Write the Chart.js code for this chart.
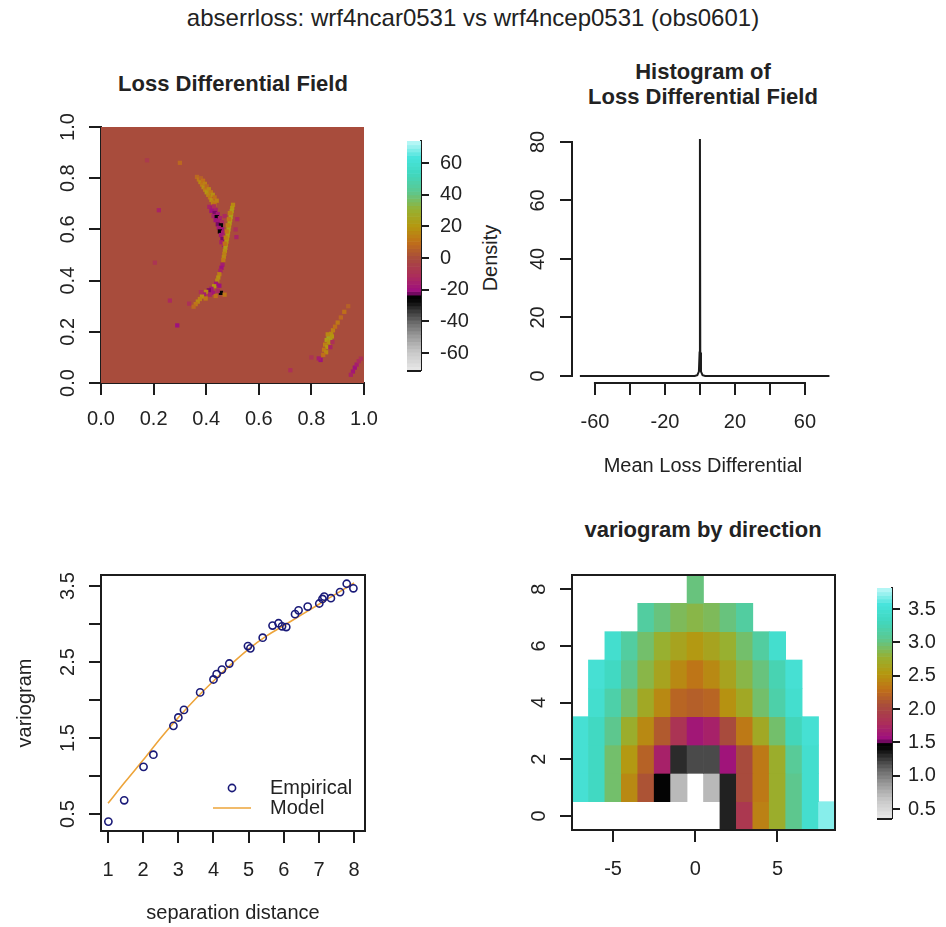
<!DOCTYPE html>
<html>
<head>
<meta charset="utf-8">
<script src="https://cdn.jsdelivr.net/npm/chart.js@4.4.1/dist/chart.umd.min.js"></script>
<style>
  body { margin: 0; background: #fff; }
  #page { position: relative; width: 946px; height: 927px; overflow: hidden;
          font-family: 'Liberation Sans', Arial, sans-serif; color: #222; }
  canvas { position: absolute; left: 0; top: 0; }
  .lbl { position: absolute; white-space: nowrap; line-height: 1; transform: translate(-50%, -50%); }
  .main { font-size: 24px; }
  .ptitle { font-size: 22px; font-weight: bold; }
  .side { font-size: 20px; transform: translate(-50%, -50%) rotate(-90deg); }
</style>
</head>
<body>
<div id="page">
  <div class="lbl main" style="left:473px;top:18px">abserrloss: wrf4ncar0531 vs wrf4ncep0531 (obs0601)</div>
  <div class="lbl ptitle" style="left:233px;top:84px">Loss Differential Field</div>
  <div class="lbl ptitle" style="left:703px;top:72px">Histogram of</div>
  <div class="lbl ptitle" style="left:703px;top:97px">Loss Differential Field</div>
  <div class="lbl ptitle" style="left:703px;top:530px">variogram by direction</div>
  <div class="lbl side" style="left:490px;top:258px">Density</div>

  <canvas id="fieldChart" width="946" height="927"></canvas>
  <canvas id="fieldBar" width="946" height="927"></canvas>
  <canvas id="densChart" width="946" height="927"></canvas>
  <canvas id="varioChart" width="946" height="927"></canvas>
  <canvas id="dirChart" width="946" height="927"></canvas>
  <canvas id="dirBar" width="946" height="927"></canvas>
</div>

<script>
/* =========================
   DATA
========================= */

// loss differential field: value everywhere except the spots below
const fieldBase = 0;
const fieldRange = [-70.7, 73.9];
// [x, y, value]
const fieldSpots = [
  // upper orange streak
  [0.365,0.805,8],[0.372,0.795,12],[0.378,0.785,16],[0.384,0.775,12],[0.390,0.765,18],[0.396,0.755,14],
  [0.402,0.745,20],[0.408,0.735,16],[0.414,0.725,12],[0.420,0.715,18],[0.426,0.705,14],[0.432,0.697,10],
  [0.380,0.800,6],[0.388,0.790,10],[0.395,0.778,14],[0.402,0.768,8],[0.410,0.757,16],[0.418,0.745,12],
  [0.425,0.735,18],[0.432,0.725,10],[0.440,0.712,14],
  // purple blotch
  [0.412,0.688,-14],[0.424,0.684,-18],[0.436,0.676,-16],[0.420,0.672,-20],[0.432,0.664,-22],[0.444,0.660,-18],
  [0.428,0.652,-16],[0.440,0.648,-25],[0.452,0.644,-14],[0.436,0.636,-20],[0.448,0.632,-18],[0.460,0.628,-12],
  [0.444,0.620,-22],[0.456,0.616,-26],[0.448,0.606,-18],[0.460,0.600,-20],[0.452,0.592,-24],[0.464,0.588,-16],
  [0.456,0.578,-18],[0.468,0.572,-14],[0.462,0.562,-22],[0.458,0.550,-16],[0.468,0.540,-20],[0.472,0.528,-14],
  [0.430,0.690,-10],[0.470,0.652,-12],
  // yellow streak
  [0.502,0.696,16],[0.499,0.684,20],[0.497,0.672,22],[0.495,0.660,18],[0.493,0.648,24],[0.491,0.636,20],
  [0.489,0.624,22],[0.487,0.612,18],[0.485,0.600,24],[0.483,0.588,20],[0.481,0.576,22],[0.479,0.564,18],
  [0.477,0.552,20],[0.475,0.540,16],[0.473,0.528,22],[0.471,0.516,18],[0.469,0.504,14],[0.467,0.492,16],
  [0.465,0.480,12],[0.490,0.664,14],[0.486,0.640,12],[0.482,0.616,14],[0.478,0.592,12],[0.474,0.568,14],
  [0.470,0.544,10],[0.515,0.570,-14],[0.512,0.600,-10],[0.518,0.640,-12],
  // lower cluster
  [0.462,0.462,-16],[0.458,0.450,-20],[0.454,0.438,-14],[0.450,0.425,14],[0.446,0.412,18],[0.442,0.400,16],
  [0.438,0.388,-18],[0.450,0.380,-20],[0.430,0.378,20],[0.420,0.368,-18],[0.410,0.362,-22],[0.400,0.356,16],
  [0.392,0.346,-16],[0.384,0.338,18],[0.376,0.328,14],[0.368,0.318,16],[0.360,0.308,12],[0.352,0.298,8],
  [0.456,0.352,-26],[0.444,0.360,-12],[0.426,0.352,-18],[0.470,0.345,12],[0.436,0.340,10],[0.414,0.345,-14],
  [0.398,0.330,12],[0.380,0.355,-10],
  // scattered
  [0.220,0.675,-14],[0.205,0.470,-8],[0.290,0.225,-20],[0.262,0.322,-12],[0.175,0.870,-6],[0.335,0.310,-10],
  [0.300,0.860,8],
  // lower right
  [0.865,0.180,28],[0.872,0.170,24],[0.858,0.168,22],[0.866,0.158,18],[0.852,0.150,14],[0.860,0.140,20],
  [0.848,0.130,12],[0.856,0.120,16],[0.845,0.110,10],[0.875,0.192,18],[0.882,0.206,14],[0.890,0.220,10],
  [0.900,0.236,12],[0.912,0.256,8],[0.925,0.278,10],[0.940,0.300,6],[0.878,0.182,20],[0.862,0.190,16],
  [0.835,0.090,-20],[0.828,0.096,-16],[0.872,0.140,-14],[0.880,0.160,-10],[0.965,0.060,-20],[0.972,0.072,-16],
  [0.958,0.045,-18],[0.950,0.032,-14],[0.980,0.085,-12],[0.720,0.050,-10],[0.800,0.100,-8],[0.988,0.095,-10]
];

// density of the mean loss differential
const densX = [-68.6, -3, -1.5, -0.6, -0.2, 0, 0.2, 0.6, 1.5, 3, 74];
const densY = [0, 0, 0.3, 1.5, 8, 81, 8, 1.5, 0.3, 0, 0];

// empirical variogram and fitted model
const empX = [1.01, 1.46, 2.01, 2.29, 2.86, 3.00, 3.16, 3.62, 4.00, 4.09, 4.24, 4.45, 4.98, 5.05, 5.40,
              5.68, 5.85, 5.95, 6.07, 6.32, 6.42, 6.68, 7.01, 7.10, 7.15, 7.34, 7.60, 7.79, 7.98];
const empY = [0.40, 0.68, 1.12, 1.28, 1.66, 1.77, 1.87, 2.10, 2.27, 2.34, 2.40, 2.48, 2.71, 2.68, 2.82,
              2.98, 3.01, 2.97, 2.96, 3.13, 3.18, 3.23, 3.27, 3.33, 3.36, 3.34, 3.42, 3.53, 3.47];
const modelX = [1, 1.5, 2, 2.5, 3, 3.5, 4, 4.5, 5, 5.5, 6, 6.5, 7, 7.5, 8];
const modelY = [0.64, 0.93, 1.21, 1.50, 1.77, 2.02, 2.25, 2.47, 2.67, 2.84, 2.98, 3.12, 3.26, 3.40, 3.54];

// variogram by direction, one row per y lag, columns x = -7..8
const dirRange = [0.365, 3.815];
const dirX = [-7, -6, -5, -4, -3, -2, -1, 0, 1, 2, 3, 4, 5, 6, 7, 8];
const dirY = [0, 1, 2, 3, 4, 5, 6, 7, 8];
const _ = null;
const dirRows = [
  [_, _, _, _, _, _, _, _, _, 1.33, 1.88, 2.40, 2.75, 3.05, 3.45, 3.70],
  [3.50, 3.35, 2.95, 2.45, 2.10, 1.45, 0.72, _, 0.72, 1.33, 2.05, 2.35, 2.75, 3.05, 3.45, _],
  [3.50, 3.35, 2.95, 2.55, 2.20, 1.70, 1.30, 1.20, 1.20, 1.60, 2.05, 2.35, 2.75, 3.10, 3.45, _],
  [3.50, 3.35, 3.05, 2.75, 2.45, 2.15, 1.85, 1.62, 1.70, 2.05, 2.35, 2.70, 2.95, 3.30, 3.50, _],
  [_, 3.45, 3.20, 2.95, 2.70, 2.45, 2.22, 2.18, 2.22, 2.50, 2.70, 2.95, 3.20, 3.45, _, _],
  [_, 3.50, 3.35, 3.05, 2.85, 2.65, 2.45, 2.33, 2.45, 2.65, 2.85, 3.00, 3.25, 3.50, _, _],
  [_, _, 3.45, 3.15, 2.95, 2.78, 2.65, 2.55, 2.65, 2.78, 2.95, 3.15, 3.45, _, _, _],
  [_, _, _, _, 3.15, 3.00, 2.90, 2.85, 2.90, 3.00, 3.15, _, _, _, _, _],
  [_, _, _, _, _, _, _, 3.00, _, _, _, _, _, _, _, _]
];

/* =========================
   COLOURS + HELPERS
========================= */

const INK = '#1c1c1c';
const PAGE_W = 946, PAGE_H = 927;

const paletteStops = [
  [0.00, '#e8e8e8'], [0.08, '#c8c8c8'], [0.15, '#9a9a9a'], [0.21, '#6a6a6a'], [0.26, '#383838'],
  [0.30, '#0a0a0a'], [0.325, '#000000'], [0.34, '#9c0c84'], [0.41, '#ac2c5c'], [0.49, '#a84c3c'],
  [0.56, '#c07018'], [0.63, '#b49810'], [0.70, '#98b030'], [0.78, '#5cc890'], [0.86, '#40d8c0'],
  [0.93, '#48e4dc'], [1.00, '#c0f8f8']
];
const stopsRgb = paletteStops.map(([f, h]) => {
  const n = parseInt(h.slice(1), 16);
  return [f, [(n >> 16) & 255, (n >> 8) & 255, n & 255]];
});

function colorFor(v, range) {
  let f = (v - range[0]) / (range[1] - range[0]);
  f = Math.max(0, Math.min(1, f));
  for (let i = 1; i < stopsRgb.length; i++) {
    const [f1, c1] = stopsRgb[i];
    if (f <= f1) {
      const [f0, c0] = stopsRgb[i - 1];
      const t = (f - f0) / ((f1 - f0) || 1);
      return 'rgb(' + c0.map((c, k) => Math.round(c + (c1[k] - c) * t)).join(',') + ')';
    }
  }
  return 'rgb(' + stopsRgb[stopsRgb.length - 1][1].join(',') + ')';
}

// chart area in page pixels -> layout padding, given fixed axis sizes
function place(a, leftW, bottomH, rightW) {
  return { padding: { left: a.l - leftW, top: a.t, right: PAGE_W - a.r - rightW, bottom: PAGE_H - a.b - bottomH } };
}

// R-like axis: outward ticks, fixed thickness
function rAxis(o) {
  const vertical = o.position === 'left' || o.position === 'right';
  return {
    type: 'linear', position: o.position, min: o.min, max: o.max, offset: false,
    border: { display: o.border !== false, color: INK, width: 2 },
    grid: { display: true, drawOnChartArea: false, drawTicks: true, offset: false,
            tickLength: o.tick || 12, color: INK, lineWidth: 2 },
    ticks: {
      stepSize: o.step, includeBounds: false, autoSkip: false, padding: o.pad, color: '#222',
      minRotation: o.position === 'left' ? 90 : 0, maxRotation: o.position === 'left' ? 90 : 0,
      crossAlign: o.position === 'left' ? 'center' : 'near',
      callback: o.label
    },
    title: o.title
      ? { display: true, text: o.title, color: '#222', font: { size: 20 },
          padding: { top: o.titlePad || 0, bottom: o.titlePad || 0 } }
      : { display: false },
    afterFit: s => {
      if (vertical) { s.width = o.size; s.paddingTop = 0; s.paddingBottom = 0; }
      else { s.height = o.size; s.paddingLeft = 0; s.paddingRight = 0; }
    }
  };
}

const boxPlugin = {
  id: 'box',
  afterDraw(chart) {
    const { ctx, chartArea: a } = chart;
    ctx.save();
    ctx.strokeStyle = INK; ctx.lineWidth = 2;
    ctx.strokeRect(a.left, a.top, a.right - a.left, a.bottom - a.top);
    ctx.restore();
  }
};

// axis line only from first to last tick, like R's axis()
const detachedAxes = {
  id: 'detachedAxes',
  afterDraw(chart) {
    const { ctx } = chart;
    const x = chart.scales.x, y = chart.scales.y;
    const xt = x.ticks, yt = y.ticks;
    ctx.save();
    ctx.strokeStyle = INK; ctx.lineWidth = 2;
    ctx.beginPath();
    ctx.moveTo(x.getPixelForValue(xt[0].value) - 1, x.top);
    ctx.lineTo(x.getPixelForValue(xt[xt.length - 1].value) + 1, x.top);
    ctx.moveTo(y.right, y.getPixelForValue(yt[0].value) + 1);
    ctx.lineTo(y.right, y.getPixelForValue(yt[yt.length - 1].value) - 1);
    ctx.stroke();
    ctx.restore();
  }
};

// colour strip drawn along the y scale of a legend chart
function stripPlugin(range) {
  return {
    id: 'strip',
    beforeDatasetsDraw(chart) {
      const { ctx, chartArea: a } = chart;
      const y = chart.scales.y;
      const n = 64;
      ctx.save();
      for (let k = 0; k < n; k++) {
        const v0 = range[0] + (range[1] - range[0]) * k / n;
        const v1 = range[0] + (range[1] - range[0]) * (k + 1) / n;
        const p0 = y.getPixelForValue(v0), p1 = y.getPixelForValue(v1);
        ctx.fillStyle = colorFor((v0 + v1) / 2, range);
        ctx.fillRect(a.left, p1, a.right - a.left, p0 - p1 + 0.6);
      }
      ctx.strokeStyle = INK; ctx.lineWidth = 2;
      ctx.beginPath();
      ctx.moveTo(a.left, a.bottom + 1); ctx.lineTo(a.right, a.bottom + 1);
      ctx.stroke();
      ctx.restore();
    }
  };
}

Chart.defaults.font.family = "'Liberation Sans', Arial, sans-serif";
Chart.defaults.font.size = 20;
Chart.defaults.color = '#222';
Chart.defaults.animation = false;
Chart.defaults.plugins.legend.display = false;
Chart.defaults.plugins.tooltip.enabled = false;

const fmt1 = v => v.toFixed(1);

/* =========================
   LOSS DIFFERENTIAL FIELD
========================= */

const fieldArea = { l: 101, t: 127, r: 364, b: 383 };
new Chart(document.getElementById('fieldChart'), {
  type: 'scatter',
  data: {
    datasets: [{
      data: fieldSpots.map(s => ({ x: s[0], y: s[1], v: s[2] })),
      pointStyle: 'rect',
      pointRadius: 3,
      pointBorderWidth: 0,
      backgroundColor: c => c.raw ? colorFor(c.raw.v, fieldRange) : 'transparent'
    }]
  },
  options: {
    responsive: false,
    layout: place(fieldArea, 60, 50, 0),
    scales: {
      x: rAxis({ position: 'bottom', min: 0, max: 1, step: 0.2, size: 50, pad: 12, label: fmt1 }),
      y: rAxis({ position: 'left', min: 0, max: 1, step: 0.2, size: 60, pad: 7, label: fmt1 })
    }
  },
  plugins: [{
    id: 'fieldBase',
    beforeDatasetsDraw(chart) {
      const { ctx, chartArea: a } = chart;
      ctx.save();
      ctx.fillStyle = colorFor(fieldBase, fieldRange);
      ctx.fillRect(a.left, a.top, a.right - a.left, a.bottom - a.top);
      ctx.restore();
    }
  }]
});

new Chart(document.getElementById('fieldBar'), {
  type: 'scatter',
  data: { datasets: [] },
  options: {
    responsive: false,
    layout: place({ l: 407, t: 141, r: 421, b: 370 }, 0, 0, 70),
    scales: {
      x: { display: false, min: 0, max: 1 },
      y: rAxis({ position: 'right', min: fieldRange[0], max: fieldRange[1], step: 20, size: 70,
                 tick: 8, pad: 11, label: v => String(v) })
    }
  },
  plugins: [stripPlugin(fieldRange)]
});

/* =========================
   DENSITY
========================= */

new Chart(document.getElementById('densChart'), {
  type: 'scatter',
  data: {
    datasets: [{
      data: densX.map((x, i) => ({ x, y: densY[i] })),
      showLine: true,
      pointRadius: 0,
      borderColor: INK,
      borderWidth: 2,
      tension: 0
    }]
  },
  options: {
    responsive: false,
    layout: place({ l: 572, t: 127, r: 834, b: 383 }, 60, 95, 0),
    scales: {
      x: rAxis({ position: 'bottom', min: -73.1, max: 76.6, step: 20, size: 95, pad: 15, border: false,
                 title: 'Mean Loss Differential',
                 label: v => [-60, -20, 20, 60].includes(v) ? String(v) : '' }),
      y: rAxis({ position: 'left', min: -2.39, max: 85.1, step: 20, size: 60, pad: 10, border: false,
                 label: v => String(v) })
    }
  },
  plugins: [detachedAxes]
});

/* =========================
   VARIOGRAM
========================= */

new Chart(document.getElementById('varioChart'), {
  type: 'scatter',
  data: {
    datasets: [
      {
        label: 'Empirical',
        data: empX.map((x, i) => ({ x, y: empY[i] })),
        pointStyle: 'circle',
        pointRadius: 3.6,
        borderColor: '#1a1a78',
        backgroundColor: 'transparent',
        borderWidth: 1.6
      },
      {
        label: 'Model',
        data: modelX.map((x, i) => ({ x, y: modelY[i] })),
        showLine: true,
        pointRadius: 0,
        borderColor: '#eda43a',
        borderWidth: 1.6,
        cubicInterpolationMode: 'monotone'
      }
    ]
  },
  options: {
    responsive: false,
    layout: place({ l: 101, t: 575, r: 365, b: 831 }, 90, 94, 0),
    scales: {
      x: rAxis({ position: 'bottom', min: 0.80, max: 8.31, step: 1, size: 94, pad: 15, border: false,
                 title: 'separation distance', label: v => String(v) }),
      y: rAxis({ position: 'left', min: 0.276, max: 3.645, step: 0.5, size: 90, pad: 7, border: false,
                 title: 'variogram', titlePad: 2,
                 label: v => Math.round(v * 2) % 2 === 1 ? v.toFixed(1) : '' })
    }
  },
  plugins: [boxPlugin, {
    id: 'insetLegend',
    afterDraw(chart) {
      const { ctx, chartArea: a } = chart;
      const emp = chart.data.datasets[0], mod = chart.data.datasets[1];
      const cx = a.right - 133, y1 = a.bottom - 43, y2 = a.bottom - 23;
      ctx.save();
      ctx.strokeStyle = emp.borderColor; ctx.lineWidth = emp.borderWidth;
      ctx.beginPath(); ctx.arc(cx, y1, emp.pointRadius, 0, Math.PI * 2); ctx.stroke();
      ctx.strokeStyle = mod.borderColor; ctx.lineWidth = mod.borderWidth;
      ctx.beginPath(); ctx.moveTo(cx - 19, y2); ctx.lineTo(cx + 19, y2); ctx.stroke();
      ctx.fillStyle = '#222';
      ctx.font = "20px 'Liberation Sans', Arial, sans-serif";
      ctx.textBaseline = 'middle';
      ctx.fillText(emp.label, a.right - 95, y1);
      ctx.fillText(mod.label, a.right - 95, y2);
      ctx.restore();
    }
  }]
});

/* =========================
   VARIOGRAM BY DIRECTION
========================= */

const dirCells = [];
dirRows.forEach((row, yi) => {
  row.forEach((v, xi) => {
    if (v !== null) dirCells.push({ x: dirX[xi], y: [dirY[yi] - 0.5, dirY[yi] + 0.5], v });
  });
});

new Chart(document.getElementById('dirChart'), {
  type: 'bar',
  data: {
    datasets: [{
      data: dirCells,
      backgroundColor: c => c.raw ? colorFor(c.raw.v, dirRange) : 'transparent',
      borderWidth: 0,
      barPercentage: 1,
      categoryPercentage: 1
    }]
  },
  options: {
    responsive: false,
    layout: place({ l: 572, t: 575, r: 835, b: 830 }, 60, 60, 0),
    scales: {
      x: rAxis({ position: 'bottom', min: -7.5, max: 8.5, step: 5, size: 60, pad: 15, border: false,
                 label: v => String(v) }),
      y: rAxis({ position: 'left', min: -0.5, max: 8.5, step: 2, size: 60, pad: 15, border: false,
                 label: v => String(v) })
    }
  },
  plugins: [boxPlugin]
});

new Chart(document.getElementById('dirBar'), {
  type: 'scatter',
  data: { datasets: [] },
  options: {
    responsive: false,
    layout: place({ l: 877, t: 588, r: 892, b: 818 }, 0, 0, 50),
    scales: {
      x: { display: false, min: 0, max: 1 },
      y: rAxis({ position: 'right', min: dirRange[0], max: dirRange[1], step: 0.5, size: 50,
                 tick: 8, pad: 8, label: fmt1 })
    }
  },
  plugins: [stripPlugin(dirRange)]
});
</script>
</body>
</html>
